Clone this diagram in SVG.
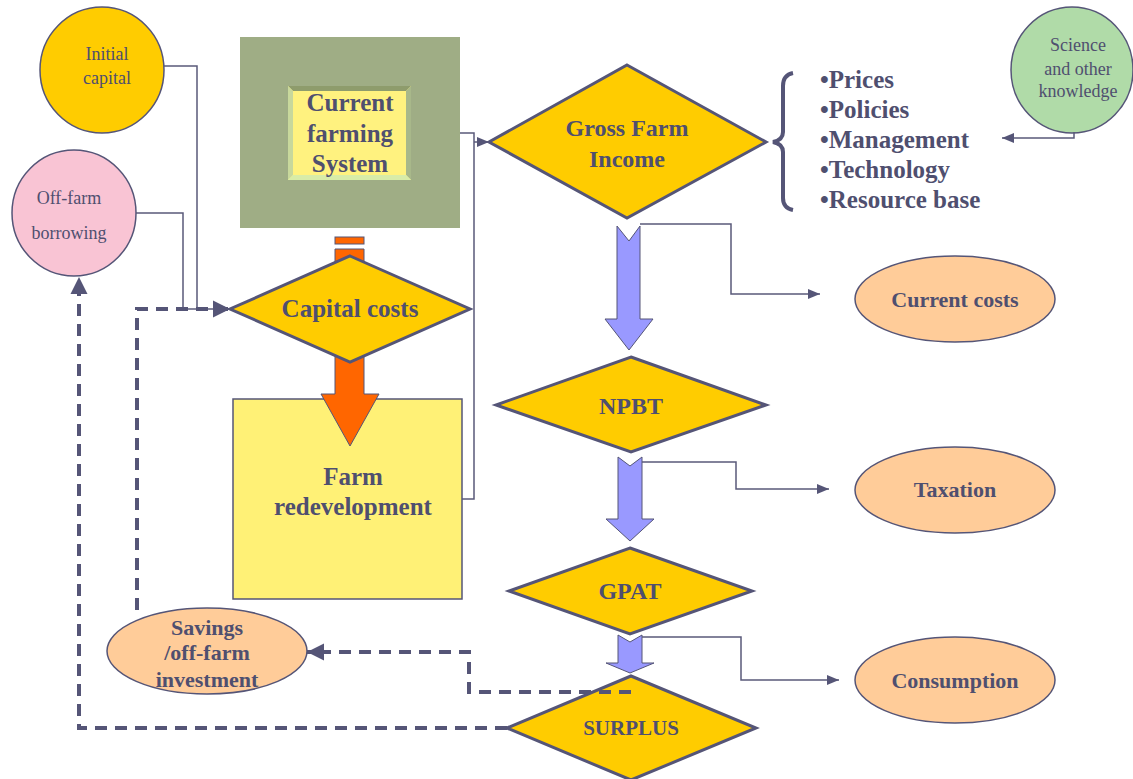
<svg xmlns="http://www.w3.org/2000/svg" width="1133" height="779" viewBox="0 0 1133 779">
<style>
.lbl{font-family:"Liberation Serif","Times New Roman",serif;font-weight:bold;fill:#4f4f6f;text-anchor:middle}
.nrm{font-family:"Liberation Serif","Times New Roman",serif;fill:#4f4f6f;text-anchor:middle}
.dia{fill:#ffcc00;stroke:#555577;stroke-width:3;stroke-linejoin:miter}
.ell{fill:#ffcc99;stroke:#555577;stroke-width:1.5}
.blue{fill:#9999ff;stroke:#555577;stroke-width:1}
.ln{fill:none;stroke:#5a5a7a;stroke-width:1.5}
.dash{fill:none;stroke:#555577;stroke-width:4;stroke-dasharray:12 8}
</style>
<defs>
<marker id="ah" viewBox="0 0 12 10" refX="12" refY="5" markerWidth="12" markerHeight="10" markerUnits="userSpaceOnUse" orient="auto"><path d="M0,0 L12,5 L0,10 z" fill="#555577"/></marker>
<marker id="ahd" viewBox="0 0 10 10" refX="10" refY="5" markerWidth="4.3" markerHeight="4.3" markerUnits="strokeWidth" orient="auto"><path d="M0,0 L10,5 L0,10 z" fill="#555577"/></marker>
</defs>
<rect width="1133" height="779" fill="#ffffff"/>

<g id="current-system">
<rect x="240" y="37" width="220" height="191" fill="#9fad85"/>
<rect x="288" y="86" width="123" height="94" fill="#fff27f"/>
<polygon points="288,86 411,86 406,91 293,91" fill="#8e9c6c"/>
<polygon points="411,86 411,180 406,175 406,91" fill="#a8b88a"/>
<polygon points="288,86 293,91 293,175 288,180" fill="#c8d89c"/>
<polygon points="288,180 293,175 406,175 411,180" fill="#d8eca8"/>
<text class="lbl" font-size="25"><tspan x="350" y="111">Current</tspan><tspan x="350" y="142">farming</tspan><tspan x="350" y="172">System</tspan></text>
</g>

<g id="initial-capital">
<ellipse cx="102" cy="70" rx="62" ry="63" fill="#ffcc00" stroke="#555577" stroke-width="1.5"/>
<text class="nrm" font-size="18"><tspan x="107" y="60">Initial</tspan><tspan x="107" y="84">capital</tspan></text>
</g>

<g id="off-farm-borrowing">
<ellipse cx="74" cy="213" rx="62" ry="63" fill="#f9c4d4" stroke="#555577" stroke-width="1.5"/>
<text class="nrm" font-size="18"><tspan x="69" y="204">Off-farm</tspan><tspan x="69" y="239">borrowing</tspan></text>
</g>

<g id="science">
<ellipse cx="1072" cy="70" rx="61" ry="63" fill="#b0dba8" stroke="#555577" stroke-width="1.5"/>
<text class="nrm" font-size="18"><tspan x="1078" y="51">Science</tspan><tspan x="1078" y="75">and other</tspan><tspan x="1078" y="97">knowledge</tspan></text>
</g>

<g id="farm-redevelopment">
<rect x="233" y="399" width="229" height="200" fill="#fff176" stroke="#555577" stroke-width="1.5"/>
<text class="lbl" font-size="25"><tspan x="353" y="485">Farm</tspan><tspan x="353" y="515">redevelopment</tspan></text>
</g>

<g id="orange-arrow">
<rect x="335" y="237" width="29" height="7" fill="#ff6600" stroke="#555577" stroke-width="1"/>
<polygon points="335,249 364,249 364,394 379,394 350,446 321,394 335,394" fill="#ff6600" stroke="#555577" stroke-width="1"/>
</g>

<g id="capital-costs">
<polygon class="dia" points="350,256 470,309 350,362 230,309"/>
<text class="lbl" x="350" y="317" font-size="25">Capital costs</text>
</g>

<g id="gross-farm-income">
<polygon class="dia" points="627,65 766,142 627,218 489,142"/>
<text class="lbl" font-size="24"><tspan x="627" y="136">Gross Farm</tspan><tspan x="627" y="167">Income</tspan></text>
</g>

<g id="factors">
<path d="M793,73 Q783,75 783,86 V132 Q783,140 773,142 Q783,144 783,152 V198 Q783,208 793,210" fill="none" stroke="#555577" stroke-width="4"/>
<text class="lbl" font-size="25" style="text-anchor:start"><tspan x="820" y="88">•Prices</tspan><tspan x="820" y="118">•Policies</tspan><tspan x="820" y="148">•Management</tspan><tspan x="820" y="178">•Technology</tspan><tspan x="820" y="208">•Resource base</tspan></text>
</g>

<g id="npbt">
<polygon class="dia" points="631,357 766,405 631,452 496,405"/>
<text class="lbl" x="631" y="414" font-size="24">NPBT</text>
</g>

<g id="gpat">
<polygon class="dia" points="630,548 752,591 630,634 509,591"/>
<text class="lbl" x="630" y="599" font-size="24">GPAT</text>
</g>

<g id="surplus">
<polygon class="dia" points="631,676 756,728 631,780 507,728"/>
<text class="lbl" x="631" y="735" font-size="21">SURPLUS</text>
</g>

<g id="current-costs">
<ellipse class="ell" cx="955" cy="299" rx="100" ry="43"/>
<text class="lbl" x="955" y="307" font-size="22">Current costs</text>
</g>

<g id="taxation">
<ellipse class="ell" cx="955" cy="490" rx="100" ry="43"/>
<text class="lbl" x="955" y="497" font-size="22">Taxation</text>
</g>

<g id="consumption">
<ellipse class="ell" cx="955" cy="680" rx="100" ry="43"/>
<text class="lbl" x="955" y="688" font-size="22">Consumption</text>
</g>

<g id="savings">
<ellipse class="ell" cx="207" cy="651" rx="100" ry="43"/>
<text class="lbl" font-size="22"><tspan x="207" y="635">Savings</tspan><tspan x="207" y="660">/off-farm</tspan><tspan x="207" y="687">investment</tspan></text>
</g>

<g id="connectors">
<polygon class="blue" points="617,226 629,241 640,226 640,319 653,319 629,350 605,319 617,319"/>
<polygon class="blue" points="618,457 630,466 642,457 642,519 654,519 630,541 606,519 618,519"/>
<polygon class="blue" points="618,635 630,642 642,635 642,663 654,663 630,673 606,663 618,663"/>
<path class="ln" d="M164,66 H197 V309"/>
<path class="ln" d="M136,213 H183 V309"/>
<path class="ln" d="M183,309 H230" marker-end="url(#ah)"/>
<path class="ln" d="M460,133 H474 V499 H462"/>
<path class="ln" d="M474,142 H489" marker-end="url(#ah)"/>
<path class="ln" d="M1074,132 V138 H1002" marker-end="url(#ah)"/>
<path class="ln" d="M640,224 H731 V294 H820" marker-end="url(#ah)"/>
<path class="ln" d="M642,462 H736 V489 H829" marker-end="url(#ah)"/>
<path class="ln" d="M642,637 H741 V680 H839" marker-end="url(#ah)"/>
<path class="dash" d="M507,728 H79 V277" marker-end="url(#ahd)"/>
<path class="dash" d="M137,610 V309 H230" marker-end="url(#ahd)"/>
<path class="dash" d="M631,692 H469 V652 H307" marker-end="url(#ahd)"/>
</g>
</svg>
